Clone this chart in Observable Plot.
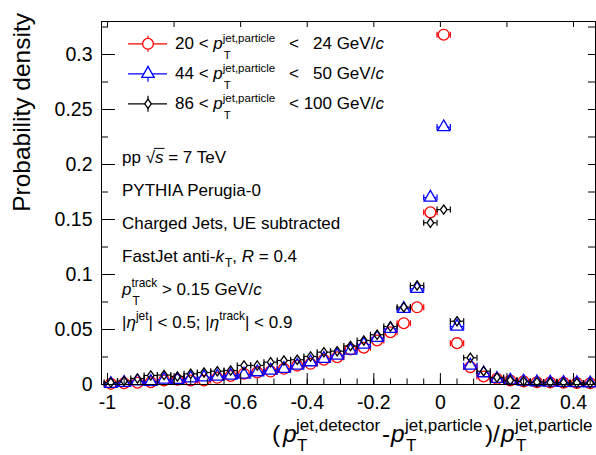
<!DOCTYPE html>
<html>
<head>
<meta charset="utf-8">
<script src="https://cdn.jsdelivr.net/npm/d3@7"></script>
<script src="https://cdn.jsdelivr.net/npm/@observablehq/plot@0.6"></script>
<style>
  html, body { margin: 0; padding: 0; background: #ffffff; }
  #chart { width: 596px; height: 455px; }
</style>
</head>
<body>
<div id="chart"></div>
<script>
// ---------------- data ----------------
const binCenters = [-0.99,-0.95,-0.91,-0.87,-0.83,-0.79,-0.75,-0.71,-0.67,-0.63,-0.59,-0.55,-0.51,-0.47,-0.43,-0.39,-0.35,-0.31,-0.27,-0.23,-0.19,-0.15,-0.11,-0.07,-0.03,0.01,0.05,0.09,0.13,0.17,0.21,0.25,0.29,0.33,0.37,0.41,0.45];
const binHalfWidth = 0.02;

const density20to24 = [0.0006,0.0012,0.0016,0.0021,0.0037,0.0043,0.0037,0.0037,0.0061,0.0078,0.0098,0.0110,0.0118,0.0143,0.0172,0.0188,0.0225,0.0248,0.0318,0.0334,0.0400,0.0475,0.0557,0.0702,0.1565,0.3180,0.0376,0.0158,0.0073,0.0052,0.0037,0.0028,0.0021,0.0018,0.0016,0.0014,0.0012];
const density44to50 = [0.0006,0.0016,0.0030,0.0025,0.0045,0.0043,0.0057,0.0066,0.0073,0.0082,0.0091,0.0112,0.0127,0.0143,0.0172,0.0203,0.0234,0.0264,0.0309,0.0364,0.0424,0.0506,0.0688,0.0870,0.1700,0.2340,0.0527,0.0173,0.0103,0.0052,0.0037,0.0028,0.0021,0.0018,0.0016,0.0014,0.0012];
const density86to100 = [0.0018,0.0032,0.0055,0.0082,0.0086,0.0073,0.0097,0.0109,0.0121,0.0127,0.0173,0.0173,0.0203,0.0218,0.0225,0.0255,0.0294,0.0303,0.0350,0.0400,0.0452,0.0527,0.0703,0.0900,0.1470,0.1590,0.0575,0.0243,0.0121,0.0064,0.0037,0.0028,0.0021,0.0018,0.0016,0.0014,0.0012];

const rangeLow = ["20", "44", "86"];
const rangeHigh = ["24", "50", "100"];

const xMajorTicks = [-1, -0.8, -0.6, -0.4, -0.2, 0, 0.2, 0.4];
const xMinorTicks = [-1,-0.95,-0.9,-0.85,-0.8,-0.75,-0.7,-0.65,-0.6,-0.55,-0.5,-0.45,-0.4,-0.35,-0.3,-0.25,-0.2,-0.15,-0.1,-0.05,0,0.05,0.1,0.15,0.2,0.25,0.3,0.35,0.4,0.45];
const yMajorTicks = [0, 0.05, 0.1, 0.15, 0.2, 0.25, 0.3];
const yMinorTicks = [0.025, 0.075, 0.125, 0.175, 0.225, 0.275, 0.325];
const yAllTicks = [0, 0.025, 0.05, 0.075, 0.1, 0.125, 0.15, 0.175, 0.2, 0.225, 0.25, 0.275, 0.3, 0.325];

// ---------------- layout / style ----------------
const W = 596, H = 455;
const M = {left: 101, right: 1, top: 21, bottom: 71};
const xDomain = [-1.018, 0.466];
const yDomain = [0, 0.33];
const FONT = '"Liberation Sans", Arial, Helvetica, sans-serif';
const pxPerX = (W - M.left - M.right) / (xDomain[1] - xDomain[0]);

const diamondSym = {draw(ctx) { ctx.moveTo(0,-4.6); ctx.lineTo(3.3,0); ctx.lineTo(0,4.6); ctx.lineTo(-3.3,0); ctx.closePath(); }};
const capSym = {draw(ctx) { ctx.moveTo(0,-3); ctx.lineTo(0,3); }};

const series = [
  {values: density20to24, color: "#ff0000", symbol: "circle", r: 5.4, halfPx: 5.4},
  {values: density44to50, color: "#0000ff", symbol: "triangle", r: 4.6, halfPx: 4.2},
  {values: density86to100, color: "#000000", symbol: diamondSym, r: 4, halfPx: 3.3}
];

function seriesMarks(s) {
  const rows = binCenters.map((x, i) => ({x, y: s.values[i]}));
  const gap = s.halfPx / pxPerX;
  return [
    Plot.ruleY(rows, {y: "y", x1: d => d.x - binHalfWidth, x2: d => d.x - gap, stroke: s.color, strokeWidth: 1.2}),
    Plot.ruleY(rows, {y: "y", x1: d => d.x + gap, x2: d => d.x + binHalfWidth, stroke: s.color, strokeWidth: 1.2}),
    Plot.dot(rows, {x: d => d.x - binHalfWidth, y: "y", symbol: capSym, stroke: s.color, strokeWidth: 1.2, fill: "none"}),
    Plot.dot(rows, {x: d => d.x + binHalfWidth, y: "y", symbol: capSym, stroke: s.color, strokeWidth: 1.2, fill: "none"}),
    Plot.dot(rows, {x: "x", y: "y", symbol: s.symbol, r: s.r, stroke: s.color, strokeWidth: 1.3, fill: "none"})
  ];
}

const fmtX = d => String(+d.toFixed(1));
const fmtY = d => String(+d.toFixed(2));
const blank = () => "";

const plot = Plot.plot({
  width: W, height: H,
  marginLeft: M.left, marginRight: M.right, marginTop: M.top, marginBottom: M.bottom,
  style: {fontFamily: FONT, fontSize: "19.5px", color: "black", background: "white", overflow: "visible"},
  x: {domain: xDomain},
  y: {domain: yDomain},
  marks: [
    ...series.flatMap(seriesMarks),
    Plot.frame({stroke: "black", strokeWidth: 1}),
    Plot.axisX(xMajorTicks, {anchor: "bottom", tickSize: -11, tickPadding: 22, tickFormat: fmtX, label: null, fontSize: 19.5}),
    Plot.axisX(xMinorTicks, {anchor: "bottom", tickSize: -5.5, tickFormat: blank, label: null}),
    Plot.axisX(xMajorTicks, {anchor: "top", tickSize: -5, tickFormat: blank, label: null}),
    Plot.axisY(yMajorTicks, {anchor: "left", tickSize: -14, tickPadding: 23, tickFormat: fmtY, label: null, fontSize: 19.5}),
    Plot.axisY(yMinorTicks, {anchor: "left", tickSize: -7, tickFormat: blank, label: null}),
    Plot.axisY(yAllTicks, {anchor: "right", tickSize: -8, tickFormat: blank, label: null})
  ]
});

document.getElementById("chart").appendChild(plot);

// ---------------- rich text helpers ----------------
const svg = d3.select(plot);
const g = svg.append("g").attr("class", "annot").attr("text-anchor", "start");

function addText(x, y, txt, fs, italic) {
  return g.append("text")
    .attr("x", x).attr("y", y)
    .attr("text-anchor", "start")
    .style("text-anchor", "start")
    .style("font-family", FONT)
    .style("font-size", fs + "px")
    .style("font-style", italic ? "italic" : "normal")
    .style("white-space", "pre")
    .attr("fill", "black")
    .text(txt);
}
function len(t) { return t.node().getComputedTextLength(); }

function rich(x, y, pieces, fs, o = {}) {
  const small = o.small ?? fs * 0.7;
  const supShift = o.sup ?? fs * 0.48;
  const subShift = o.sub ?? fs * 0.62;
  let cx = x;
  for (const p of pieces) {
    if (p.at !== undefined) cx = p.at;
    if (p.sup !== undefined || p.sub !== undefined) {
      let w = 0;
      if (p.sup) w = Math.max(w, len(addText(cx, y - supShift, p.sup, small, false)));
      if (p.sub) w = Math.max(w, len(addText(cx + 1, y + subShift, p.sub, small, false)) + 1);
      cx += w;
    } else {
      const t = addText(cx, y, p.t, fs, p.it);
      const w = len(t);
      if (p.over) {
        g.append("line").attr("x1", cx - 1).attr("x2", cx + w + 1)
          .attr("y1", y - fs * 0.86).attr("y2", y - fs * 0.86)
          .attr("stroke", "black").attr("stroke-width", 1);
      }
      cx += w;
    }
  }
  return cx;
}

// ---------------- legend ----------------
const legendBase = [49.3, 79.3, 109.3];
series.forEach((s, i) => {
  const yb = legendBase[i];
  const ym = yb - 5.5;
  g.append("line").attr("x1", 128).attr("x2", 167).attr("y1", ym).attr("y2", ym)
    .attr("stroke", s.color).attr("stroke-width", 1.2);
  g.append("line").attr("x1", 148).attr("x2", 148).attr("y1", ym - 8).attr("y2", ym + 8)
    .attr("stroke", s.color).attr("stroke-width", 1.2);
  const symType = s.symbol === "circle" ? d3.symbolCircle : s.symbol === "triangle" ? d3.symbolTriangle : s.symbol;
  g.append("path").attr("transform", `translate(148,${ym})`)
    .attr("d", d3.symbol(symType, Math.PI * s.r * s.r)())
    .attr("fill", "white").attr("stroke", s.color).attr("stroke-width", 1.3);
  rich(175, yb, [
    {t: rangeLow[i] + " < "},
    {t: "p", it: true},
    {sup: "jet,particle", sub: "T"}
  ], 17, {small: 11.5, sup: 7, sub: 9.5});
  if (rangeHigh[i].length === 3) {
    rich(289, yb, [{t: "< " + rangeHigh[i] + " GeV/"}, {t: "c", it: true}], 17);
  } else {
    rich(289, yb, [{t: "<"}, {at: 313, t: rangeHigh[i] + " GeV/"}, {t: "c", it: true}], 17);
  }
});

// ---------------- annotations ----------------
const ax = 122, afs = 17;
rich(ax, 163, [{t: "pp "}, {t: "√"}, {t: "s", it: true, over: true}, {t: " = 7 TeV"}], afs);
rich(ax, 196, [{t: "PYTHIA Perugia-0"}], afs);
rich(ax, 229, [{t: "Charged Jets, UE subtracted"}], afs);
rich(ax, 262, [{t: "FastJet anti-"}, {t: "k", it: true}, {sub: "T"}, {t: ", "}, {t: "R", it: true}, {t: " = 0.4"}], afs, {sub: 5});
rich(ax, 295, [{t: "p", it: true}, {sup: "track", sub: "T"}, {t: " > 0.15 GeV/"}, {t: "c", it: true}], afs, {sup: 8, sub: 10});
rich(ax, 328, [{t: "|"}, {t: "η", it: true}, {sup: "jet"}, {t: "| < 0.5; |"}, {t: "η", it: true}, {sup: "track"}, {t: "| < 0.9"}], afs, {sup: 8});

// ---------------- axis titles ----------------
g.append("text")
  .attr("transform", "translate(30,13) rotate(-90)")
  .attr("text-anchor", "end")
  .style("text-anchor", "end")
  .style("font-family", FONT).style("font-size", "24.5px")
  .attr("fill", "black")
  .text("Probability density");

rich(0, 442, [
  {at: 272, t: "("}, {at: 283, t: "p", it: true}, {at: 296, sup: "jet,detector", sub: "T"},
  {at: 382, t: "-"}, {at: 391, t: "p", it: true}, {at: 405, sup: "jet,particle", sub: "T"},
  {at: 485, t: ")"}, {at: 493, t: "/"}, {at: 501, t: "p", it: true}, {at: 515, sup: "jet,particle", sub: "T"}
], 24.5, {small: 17, sup: 11, sub: 8.5});
</script>
</body>
</html>
